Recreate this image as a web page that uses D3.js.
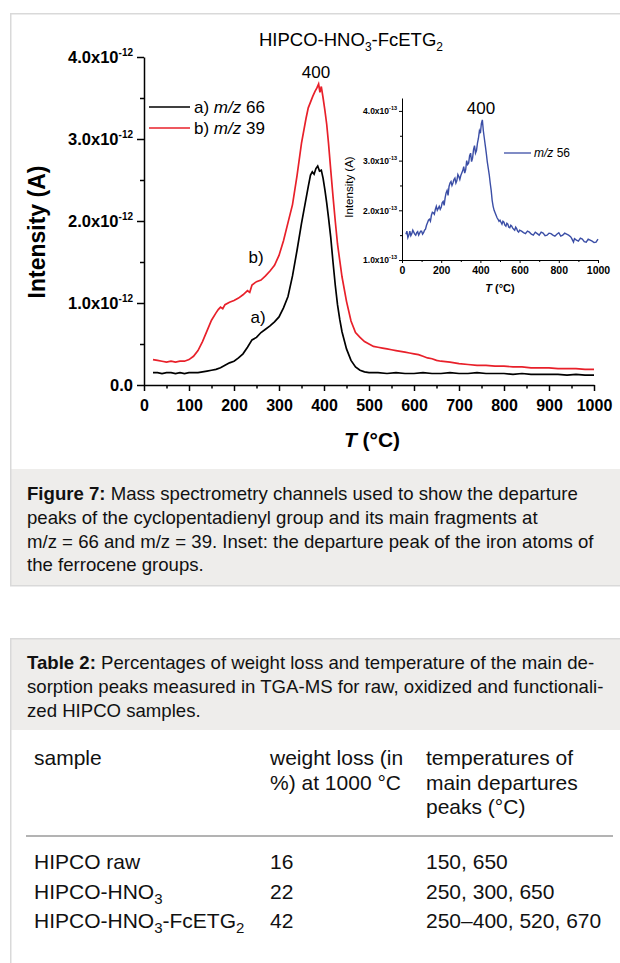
<!DOCTYPE html>
<html>
<head>
<meta charset="utf-8">
<script src="https://cdn.jsdelivr.net/npm/d3@7"></script>
<style>
  body { margin: 0; background: #fff; }
  svg { display: block; font-family: "Liberation Sans", Arial, sans-serif; }
</style>
</head>
<body>
<svg id="page" width="620" height="963"></svg>
<script>
// ---- data (T in °C, intensity in 1e-12 A / 1e-13 A for the inset)
const mz66 = [[20,.15],[30,.15],[40,.14],[50,.15],[60,.15],[70,.14],[80,.15],[90,.14],[100,.15],[110,.15],[120,.15],[130,.16],[140,.17],[150,.18],[160,.19],[170,.21],[180,.24],[190,.27],[200,.29],[210,.33],[220,.38],[230,.46],[240,.55],[250,.58],[260,.64],[270,.68],[280,.72],[290,.77],[300,.83],[310,.94],[320,1.08],[330,1.33],[340,1.64],[350,1.97],[355,2.12],[360,2.27],[365,2.42],[370,2.56],[374,2.6],[378,2.57],[382,2.64],[386,2.67],[390,2.61],[394,2.62],[398,2.52],[402,2.38],[406,2.22],[410,2.04],[415,1.80],[420,1.50],[425,1.22],[430,.98],[435,.80],[440,.65],[450,.44],[460,.30],[470,.22],[480,.18],[490,.16],[500,.15],[520,.15],[540,.14],[560,.15],[580,.14],[600,.14],[620,.15],[640,.14],[660,.14],[680,.15],[700,.14],[720,.14],[740,.15],[760,.14],[780,.14],[800,.14],[820,.13],[840,.14],[860,.13],[880,.13],[900,.13],[920,.13],[940,.12],[960,.13],[980,.12],[1000,.12]];
const mz39 = [[20,.31],[30,.30],[40,.29],[50,.28],[60,.29],[70,.28],[80,.29],[90,.29],[100,.31],[110,.35],[120,.42],[130,.53],[140,.66],[150,.79],[160,.88],[165,.92],[170,.95],[175,.93],[180,.98],[190,1.01],[200,1.03],[210,1.06],[220,1.10],[230,1.15],[235,1.13],[240,1.22],[250,1.26],[260,1.28],[270,1.33],[280,1.39],[290,1.46],[300,1.58],[310,1.76],[320,1.98],[330,2.20],[340,2.55],[350,2.95],[360,3.25],[365,3.38],[370,3.45],[375,3.52],[380,3.58],[384,3.62],[388,3.67],[391,3.57],[394,3.64],[398,3.50],[402,3.35],[406,3.18],[410,2.95],[415,2.62],[420,2.30],[425,2.00],[430,1.72],[435,1.52],[440,1.32],[450,1.02],[460,.78],[470,.64],[480,.58],[490,.53],[500,.50],[510,.47],[520,.46],[530,.45],[540,.44],[550,.43],[560,.42],[570,.41],[580,.40],[590,.39],[600,.38],[610,.37],[620,.35],[630,.33],[640,.32],[650,.30],[660,.29],[680,.28],[700,.26],[720,.25],[740,.24],[760,.24],[780,.23],[800,.23],[820,.22],[840,.22],[860,.21],[880,.21],[900,.21],[920,.20],[940,.20],[960,.20],[980,.19],[1000,.19]];
const mz56 = [[20,1.52],[25,1.58],[30,1.45],[35,1.50],[40,1.58],[45,1.49],[50,1.53],[55,1.60],[60,1.56],[65,1.52],[70,1.50],[75,1.55],[80,1.57],[85,1.50],[90,1.54],[95,1.58],[100,1.58],[105,1.52],[110,1.55],[115,1.60],[120,1.62],[125,1.70],[130,1.75],[135,1.80],[140,1.82],[145,1.78],[150,1.90],[155,1.96],[160,1.95],[165,1.92],[170,2.02],[175,2.08],[180,2.00],[185,2.04],[190,2.08],[195,2.02],[200,2.06],[205,2.15],[210,2.18],[215,2.10],[220,2.25],[225,2.35],[230,2.40],[235,2.30],[240,2.48],[245,2.55],[250,2.58],[255,2.50],[260,2.55],[265,2.62],[270,2.65],[275,2.55],[280,2.60],[285,2.72],[290,2.68],[295,2.62],[300,2.70],[305,2.75],[310,2.80],[315,2.88],[320,2.75],[325,2.82],[330,3.00],[335,2.92],[340,2.95],[345,3.10],[350,3.15],[355,2.98],[360,3.05],[365,3.22],[370,3.30],[375,3.15],[380,3.20],[385,3.35],[390,3.45],[395,3.60],[400,3.55],[405,3.75],[410,3.82],[415,3.60],[420,3.45],[425,3.30],[430,3.15],[435,2.98],[440,2.85],[445,2.72],[450,2.55],[455,2.40],[460,2.20],[465,2.08],[470,2.00],[475,1.95],[480,1.90],[485,1.85],[490,1.82],[495,1.78],[500,1.80],[505,1.76],[510,1.72],[515,1.78],[520,1.76],[525,1.70],[530,1.68],[535,1.74],[540,1.72],[545,1.66],[550,1.65],[555,1.70],[560,1.68],[565,1.64],[570,1.62],[575,1.60],[580,1.66],[585,1.63],[590,1.58],[595,1.56],[600,1.60],[610,1.58],[620,1.55],[630,1.53],[640,1.58],[650,1.56],[660,1.52],[670,1.50],[680,1.56],[690,1.53],[700,1.50],[710,1.56],[720,1.54],[730,1.49],[740,1.50],[750,1.54],[760,1.53],[770,1.50],[780,1.48],[790,1.52],[800,1.55],[810,1.48],[820,1.50],[830,1.54],[840,1.52],[850,1.50],[860,1.47],[865,1.44],[870,1.40],[875,1.36],[880,1.43],[890,1.40],[900,1.38],[910,1.44],[920,1.42],[930,1.37],[940,1.36],[950,1.42],[960,1.40],[970,1.38],[980,1.35],[990,1.36],[1000,1.42]];

const xTicks = [0,100,200,300,400,500,600,700,800,900,1000];
const xMinor = [50,150,250,350,450,550,650,750,850,950];
const yTicks = [0,1,2,3,4];
const yMinor = [0.5,1.5,2.5,3.5];
const inXTicks = [0,200,400,600,800,1000];
const inXMinor = [100,300,500,700,900];
const inYTicks = [1,2,3,4];
const inYMinor = [1.5,2.5,3.5];

const chartTitle = "HIPCO-HNO_3-FcETG_2";
const legendMain = [{lab: "a) ", it: "m/z", num: " 66", color: "#000"}, {lab: "b) ", it: "m/z", num: " 39", color: "#e8202a"}];

const figCaption = [
  ["Figure 7:", " Mass spectrometry channels used to show the departure"],
  ["", "peaks of the cyclopentadienyl group and its main fragments at"],
  ["", "m/z = 66 and m/z = 39. Inset: the departure peak of the iron atoms of"],
  ["", "the ferrocene groups."]
];
const tabCaption = [
  ["Table 2:", " Percentages of weight loss and temperature of the main de-"],
  ["", "sorption peaks measured in TGA-MS for raw, oxidized and functionali-"],
  ["", "zed HIPCO samples."]
];
const tabHeader = [["sample"], ["weight loss (in", "%) at 1000 °C"], ["temperatures of", "main departures", "peaks (°C)"]];
const tabRows = [
  ["HIPCO raw", "16", "150, 650"],
  ["HIPCO-HNO_3", "22", "250, 300, 650"],
  ["HIPCO-HNO_3-FcETG_2", "42", "250–400, 520, 670"]
];

// ---- helpers
const svg = d3.select("#page");

// text with "_n" subscripts
function rich(sel, str, sub) {
  let back = 0;
  str.split(/(_\d)/).filter(s => s).forEach(part => {
    if (part[0] === "_") {
      sel.append("tspan").attr("font-size", sub.size).attr("dy", sub.dy - back).text(part.slice(1));
      back = sub.dy;
    } else {
      sel.append("tspan").attr("dy", -back).text(part);
      back = 0;
    }
  });
}

// ---- frames
svg.append("rect").attr("x", 10).attr("y", 469).attr("width", 620).attr("height", 117).attr("fill", "#eeedeb");
svg.append("rect").attr("x", 10.75).attr("y", 13.75).attr("width", 620).attr("height", 572).attr("fill", "none")
  .attr("stroke", "#d9d9d9").attr("stroke-width", 1.5);
svg.append("rect").attr("x", 10).attr("y", 638).attr("width", 620).attr("height", 92).attr("fill", "#eeedeb");
svg.append("rect").attr("x", 10.75).attr("y", 638.75).attr("width", 620).attr("height", 400).attr("fill", "none")
  .attr("stroke", "#d9d9d9").attr("stroke-width", 1.5);

// ---- main chart
const x = d3.scaleLinear().domain([0, 1000]).range([144, 594]);
const y = d3.scaleLinear().domain([0, 4]).range([385, 57]);
const line = d3.line().x(d => x(d[0])).y(d => y(d[1]));
const g = svg.append("g");

g.append("path").datum(mz39).attr("d", line).attr("fill", "none").attr("stroke", "#e8202a").attr("stroke-width", 1.7);
g.append("path").datum(mz66).attr("d", line).attr("fill", "none").attr("stroke", "#000").attr("stroke-width", 1.7);

function styleAxis(a, fs) {
  a.selectAll("path,line").attr("stroke", "#000").attr("stroke-width", 1.5);
  a.selectAll("text").attr("font-size", fs).attr("font-weight", "bold").attr("fill", "#000")
    .attr("font-family", "Liberation Sans, Arial, sans-serif");
}
function minor(a) {
  a.select(".domain").remove();
  a.selectAll("text").remove();
  a.selectAll("line").attr("stroke", "#000");
}

const xa = g.append("g").attr("transform", "translate(0,385)")
  .call(d3.axisBottom(x).tickValues(xTicks).tickFormat(d3.format("d")).tickSize(6).tickPadding(9).tickSizeOuter(0));
styleAxis(xa, 16);
const xm = g.append("g").attr("transform", "translate(0,385)")
  .call(d3.axisBottom(x).tickValues(xMinor).tickSize(3.5));
minor(xm);
xm.selectAll("line").attr("stroke-width", 1.5);

const ya = g.append("g").attr("transform", "translate(144,0)")
  .call(d3.axisLeft(y).tickValues(yTicks).tickSize(7).tickPadding(4).tickSizeOuter(0));
styleAxis(ya, 16.5);
ya.selectAll(".tick text").each(function(d) {
  const t = d3.select(this).text(null);
  t.append("tspan").text(d === 0 ? "0.0" : d.toFixed(1) + "x10");
  if (d) t.append("tspan").attr("dy", -7).attr("font-size", 10).text("-12");
});
const ym = g.append("g").attr("transform", "translate(144,0)")
  .call(d3.axisLeft(y).tickValues(yMinor).tickSize(4));
minor(ym);
ym.selectAll("line").attr("stroke-width", 1.5);

// axis titles
g.append("text").attr("x", 372).attr("y", 447).attr("text-anchor", "middle").attr("font-size", 21).attr("font-weight", "bold")
  .call(t => { t.append("tspan").attr("font-style", "italic").text("T"); t.append("tspan").text(" (°C)"); });
g.append("text").attr("transform", "translate(45,232) rotate(-90)").attr("text-anchor", "middle")
  .attr("font-size", 23).attr("font-weight", "bold").text("Intensity (A)");

// title
g.append("text").attr("x", 351).attr("y", 46).attr("text-anchor", "middle").attr("font-size", 18.5)
  .call(t => rich(t, chartTitle, {size: 12, dy: 5}));

// legend
legendMain.forEach((l, i) => {
  const ly = 107 + i * 21;
  g.append("line").attr("x1", 149).attr("x2", 190).attr("y1", ly).attr("y2", ly).attr("stroke", l.color).attr("stroke-width", 1.7);
  g.append("text").attr("x", 194).attr("y", ly + 6).attr("font-size", 17)
    .call(t => { t.append("tspan").text(l.lab); t.append("tspan").attr("font-style", "italic").text(l.it); t.append("tspan").text(l.num); });
});

// annotations
g.append("text").attr("x", 316).attr("y", 78).attr("text-anchor", "middle").attr("font-size", 17).text("400");
g.append("text").attr("x", 256).attr("y", 263).attr("text-anchor", "middle").attr("font-size", 17).text("b)");
g.append("text").attr("x", 258).attr("y", 323).attr("text-anchor", "middle").attr("font-size", 17).text("a)");

// ---- inset
const xi = d3.scaleLinear().domain([0, 1000]).range([402, 598]);
const yi = d3.scaleLinear().domain([1, 4.26]).range([260, 98]);
const li = d3.line().x(d => xi(d[0])).y(d => yi(d[1]));
const gi = svg.append("g");
gi.append("path").datum(mz56).attr("d", li).attr("fill", "none").attr("stroke", "#3b4ea6").attr("stroke-width", 1.4);

const xia = gi.append("g").attr("transform", "translate(0,260)")
  .call(d3.axisBottom(xi).tickValues(inXTicks).tickFormat(d3.format("d")).tickSize(3).tickPadding(4).tickSizeOuter(0));
styleAxis(xia, 10.5);
xia.selectAll("path,line").attr("stroke-width", 1);
const xim = gi.append("g").attr("transform", "translate(0,260)")
  .call(d3.axisBottom(xi).tickValues(inXMinor).tickSize(2));
minor(xim);

const yia = gi.append("g").attr("transform", "translate(402,0)")
  .call(d3.axisLeft(yi).tickValues(inYTicks).tickSize(3).tickPadding(2).tickSizeOuter(0));
styleAxis(yia, 8.5);
yia.selectAll("path,line").attr("stroke-width", 1);
yia.selectAll(".tick text").each(function(d) {
  const t = d3.select(this).text(null);
  t.append("tspan").text(d.toFixed(1) + "x10");
  t.append("tspan").attr("dy", -4).attr("font-size", 5.5).text("-13");
});
const yim = gi.append("g").attr("transform", "translate(402,0)")
  .call(d3.axisLeft(yi).tickValues(inYMinor).tickSize(2));
minor(yim);

gi.append("text").attr("x", 500).attr("y", 292).attr("text-anchor", "middle").attr("font-size", 11).attr("font-weight", "bold")
  .call(t => { t.append("tspan").attr("font-style", "italic").text("T"); t.append("tspan").text(" (°C)"); });
gi.append("text").attr("transform", "translate(353,187) rotate(-90)").attr("text-anchor", "middle")
  .attr("font-size", 11.5).text("Intensity (A)");
gi.append("line").attr("x1", 504).attr("x2", 531).attr("y1", 153).attr("y2", 153).attr("stroke", "#3b4ea6").attr("stroke-width", 1.3);
gi.append("text").attr("x", 534).attr("y", 157).attr("font-size", 12)
  .call(t => { t.append("tspan").attr("font-style", "italic").text("m/z"); t.append("tspan").text(" 56"); });
gi.append("text").attr("x", 481).attr("y", 114).attr("text-anchor", "middle").attr("font-size", 17).text("400");

// ---- captions
function caption(lines, y0) {
  lines.forEach((l, i) => {
    const t = svg.append("text").attr("x", 27).attr("y", y0 + i * 23.8).attr("font-size", 18.6).attr("fill", "#111");
    if (l[0]) t.append("tspan").attr("font-weight", "bold").text(l[0]);
    t.append("tspan").text(l[1]);
  });
}
caption(figCaption, 500);
caption(tabCaption, 669);

// ---- table
const colX = [34, 270, 426];
tabHeader.forEach((cell, c) => cell.forEach((s, k) => {
  svg.append("text").attr("x", colX[c]).attr("y", 765 + k * 24.5).attr("font-size", 21).attr("fill", "#111").text(s);
}));
svg.append("line").attr("x1", 26).attr("x2", 613).attr("y1", 836).attr("y2", 836).attr("stroke", "#9a9a9a").attr("stroke-width", 1.5);
tabRows.forEach((row, r) => row.forEach((s, c) => {
  svg.append("text").attr("x", colX[c]).attr("y", 869 + r * 29.5).attr("font-size", 21).attr("fill", "#111")
    .call(t => rich(t, s, {size: 15, dy: 5}));
}));
</script>
</body>
</html>
